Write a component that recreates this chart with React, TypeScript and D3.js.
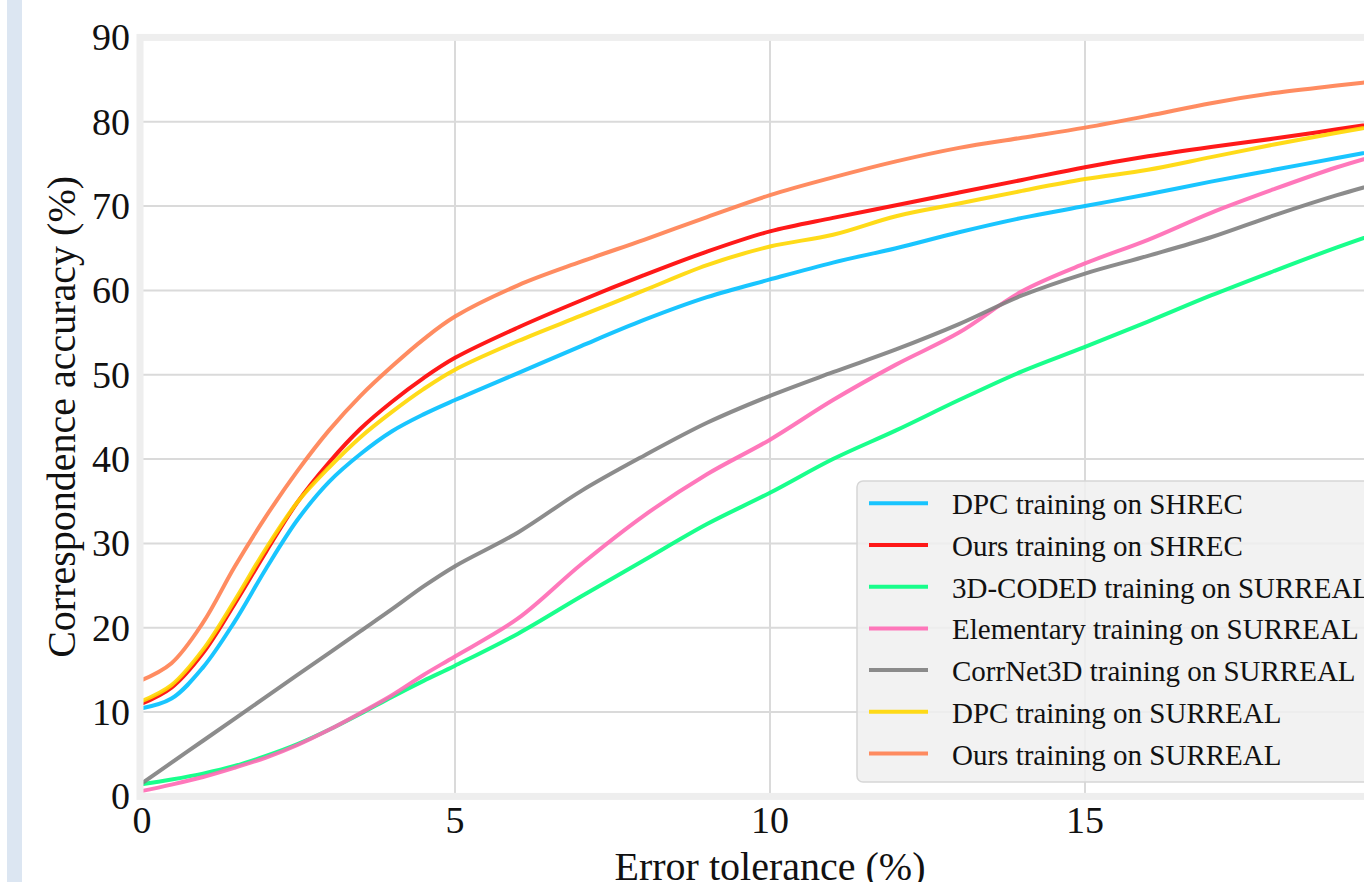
import React from "react";
import * as d3 from "d3";

// error tolerance (%) sampled along the x axis
const tolerance = [0, 0.5, 1, 1.5, 2, 2.5, 3, 3.5, 4, 4.5, 5, 6, 7, 8, 9, 10, 11, 12, 13, 14, 15, 16, 17, 18, 19, 20];

// correspondence accuracy (%) per method
const dpcShrec = [10.4, 11.6, 15.3, 20.7, 27.0, 32.8, 37.3, 40.6, 43.3, 45.3, 47.0, 50.2, 53.4, 56.5, 59.2, 61.3, 63.3, 65.0, 66.9, 68.6, 70.0, 71.4, 72.9, 74.3, 75.7, 77.1];
const oursShrec = [10.9, 12.9, 17.0, 22.8, 29.0, 34.9, 39.6, 43.6, 46.8, 49.6, 52.0, 55.6, 58.8, 61.8, 64.6, 67.0, 68.6, 70.1, 71.6, 73.1, 74.6, 75.9, 77.0, 78.0, 79.1, 80.2];
const codedSurreal = [1.4, 2.0, 2.7, 3.6, 4.8, 6.2, 7.9, 9.8, 11.8, 13.7, 15.5, 19.3, 23.7, 28.0, 32.3, 36.0, 40.0, 43.4, 47.0, 50.4, 53.3, 56.3, 59.4, 62.3, 65.1, 67.7];
const elementarySurreal = [0.6, 1.4, 2.3, 3.4, 4.6, 6.1, 7.9, 9.9, 12.0, 14.4, 16.6, 21.1, 27.5, 33.3, 38.2, 42.3, 47.0, 51.2, 55.0, 59.9, 63.2, 66.0, 69.2, 72.0, 74.6, 76.8];
const corrnetSurreal = [1.4, 4.0, 6.6, 9.2, 11.8, 14.4, 17.0, 19.6, 22.2, 24.9, 27.3, 31.3, 36.2, 40.4, 44.3, 47.5, 50.3, 53.0, 56.0, 59.4, 62.0, 64.1, 66.3, 68.9, 71.3, 73.4];
const dpcSurreal = [11.2, 13.2, 17.4, 23.2, 29.4, 34.9, 39.0, 42.6, 45.6, 48.3, 50.6, 54.0, 57.0, 60.0, 63.0, 65.2, 66.6, 68.8, 70.3, 71.8, 73.2, 74.3, 75.8, 77.3, 78.7, 80.0];
const oursSurreal = [13.7, 15.8, 20.6, 27.2, 33.2, 38.6, 43.4, 47.5, 51.0, 54.2, 56.9, 60.6, 63.4, 66.0, 68.7, 71.3, 73.4, 75.3, 76.9, 78.1, 79.3, 80.7, 82.2, 83.4, 84.3, 85.1];

const labels = [
  "DPC training on SHREC",
  "Ours training on SHREC",
  "3D-CODED training on SURREAL",
  "Elementary training on SURREAL",
  "CorrNet3D training on SURREAL",
  "DPC training on SURREAL",
  "Ours training on SURREAL",
];
const colors = ["deepskyblue", "red", "springgreen", "hotpink", "gray", "gold", "coral"];
const values = [dpcShrec, oursShrec, codedSurreal, elementarySurreal, corrnetSurreal, dpcSurreal, oursSurreal];

const xTicks = [0, 5, 10, 15, 20];
const yTicks = [0, 10, 20, 30, 40, 50, 60, 70, 80, 90];

const serif = "'Liberation Serif', 'Times New Roman', Times, serif";

export default function App() {
  const width = 1364, height = 882;
  const left = 140, right = 1400, top = 37.4, bottom = 796.4;

  const x = d3.scaleLinear().domain([0, 20]).range([left, right]);
  const y = d3.scaleLinear().domain([0, 90]).range([bottom, top]);

  const line = d3.line<number>()
    .x((_, i) => x(tolerance[i]))
    .y((d) => y(d))
    .curve(d3.curveCatmullRom.alpha(0.5));

  // legend placement
  const lgX = 857, lgY = 481, rowH = 41.7;

  return (
    <svg width={width} height={height} style={{ position: "absolute", left: 0, top: 0, background: "#fff" }}>
      <rect x={7} y={0} width={15} height={height} fill="#dce6f2" />

      {/* grid */}
      {yTicks.map((t) => (
        <line key={"gy" + t} x1={left} x2={right} y1={y(t)} y2={y(t)} stroke="#dadada" strokeWidth={2} />
      ))}
      {xTicks.map((t) => (
        <line key={"gx" + t} x1={x(t)} x2={x(t)} y1={top} y2={bottom} stroke="#dadada" strokeWidth={2} />
      ))}

      {/* curves */}
      {values.map((v, i) => (
        <path key={labels[i]} d={line(v) || ""} fill="none" stroke={colors[i]} strokeOpacity={0.9} strokeWidth={4} />
      ))}

      {/* axes frame */}
      <rect x={left} y={top} width={right - left} height={bottom - top} fill="none" stroke="#eeeeee" strokeWidth={7} />

      {/* tick labels */}
      {yTicks.map((t) => (
        <text key={"ty" + t} x={130} y={y(t) + 13} textAnchor="end" fontFamily={serif} fontSize={38} fill="#111">
          {t}
        </text>
      ))}
      {xTicks.map((t) => (
        <text key={"tx" + t} x={x(t) + (t === 0 ? 2 : 0)} y={833} textAnchor="middle" fontFamily={serif} fontSize={38} fill="#111">
          {t}
        </text>
      ))}

      <text x={(left + right) / 2} y={880} textAnchor="middle" fontFamily={serif} fontSize={40} fill="#111">
        Error tolerance (%)
      </text>
      <text transform={`translate(75,${(top + bottom) / 2}) rotate(-90)`} textAnchor="middle" fontFamily={serif} fontSize={40} fill="#111">
        Correspondence accuracy (%)
      </text>

      {/* legend */}
      <rect x={lgX} y={lgY} width={600} height={301} rx={6} fill="#f0f0f0" fillOpacity={0.85} stroke="#d6d6d6" strokeWidth={1.5} />
      {labels.map((l, i) => {
        const cy = lgY + 22.3 + i * rowH;
        return (
          <g key={"lg" + l}>
            <line x1={869} x2={928} y1={cy} y2={cy} stroke={colors[i]} strokeOpacity={0.9} strokeWidth={4} />
            <text x={952} y={cy + 11} fontFamily={serif} fontSize={29} fill="#111">
              {l}
            </text>
          </g>
        );
      })}
    </svg>
  );
}
